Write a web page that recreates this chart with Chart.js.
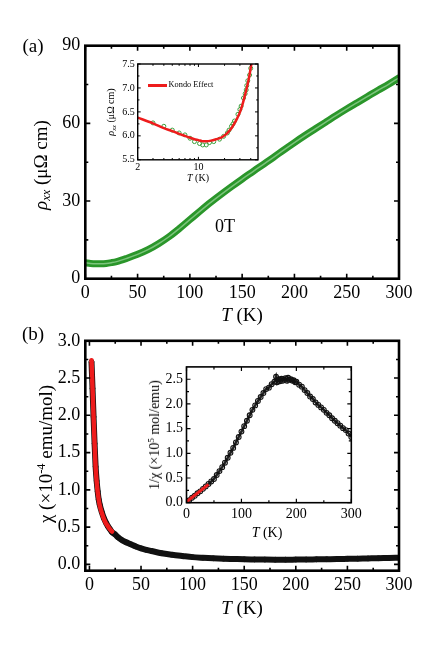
<!DOCTYPE html>
<html>
<head>
<meta charset="utf-8">
<title>Resistivity and susceptibility</title>
<script src="https://cdn.jsdelivr.net/npm/chart.js@4.4.1/dist/chart.umd.min.js"></script>
<style>
  body { margin: 0; background: #fff; }
  #fig { position: relative; width: 436px; height: 649px; overflow: hidden; font-family: "Liberation Serif", "Times New Roman", serif; color: #000; }
  #fig canvas { position: absolute; }
  .t { position: absolute; white-space: nowrap; line-height: 1; transform: translate(-50%, -50%); }
  .v { transform: translate(-50%, -50%) rotate(-90deg); }
  .t sub { font-size: 0.65em; vertical-align: -0.3em; line-height: 0; }
  .t sup { font-size: 0.65em; vertical-align: 0.55em; line-height: 0; }
  .key { position: absolute; left: 148px; top: 83.5px; width: 19px; height: 3px; background: #ee1c1c; }
</style>
</head>
<body>
<div id="fig">
  <canvas id="chartA" width="436" height="325" style="left:0;top:0"></canvas>
  <canvas id="chartB" width="436" height="324" style="left:0;top:325px"></canvas>
  <canvas id="insetA" width="170" height="135" style="left:100px;top:55px"></canvas>
  <canvas id="insetB" width="220" height="170" style="left:145px;top:355px"></canvas>

  <div class="t" style="left:33px;top:45px;font-size:19px">(a)</div>
  <div class="t v" style="left:40px;top:165px;font-size:19px"><i>ρ</i><sub><i>xx</i></sub> (μΩ cm)</div>
  <div class="t" style="left:242px;top:314px;font-size:19px"><i>T</i> (K)</div>
  <div class="t" style="left:225px;top:226px;font-size:18px">0T</div>

  <div class="t v" style="left:111px;top:112px;font-size:10px"><i>ρ</i><sub><i>xx</i></sub> (μΩ cm)</div>
  <div class="t" style="left:198px;top:177.5px;font-size:10px"><i>T</i> (K)</div>
  <div class="key"></div>
  <div class="t" style="left:191px;top:85px;font-size:8.3px">Kondo Effect</div>

  <div class="t" style="left:33px;top:333px;font-size:19px">(b)</div>
  <div class="t v" style="left:45px;top:454px;font-size:19px">χ (×10<sup>-4</sup> emu/mol)</div>
  <div class="t" style="left:242px;top:607px;font-size:19px"><i>T</i> (K)</div>

  <div class="t v" style="left:155px;top:435px;font-size:14px">1/χ (×10<sup>5</sup> mol/emu)</div>
  <div class="t" style="left:267px;top:533px;font-size:14px"><i>T</i> (K)</div>
</div>

<script>
// (a) rho_xx at 0 T, K vs uOhm cm
var rhoT = [0, 5, 10, 15, 20, 25, 30, 40, 50, 60, 70, 80, 90, 100, 110, 120, 130, 140, 150, 160,
            170, 180, 190, 200, 210, 220, 230, 240, 250, 260, 270, 280, 290, 300];
var rhoVals = [6.2, 5.9, 5.8, 5.8, 5.9, 6.2, 6.6, 7.9, 9.4, 11.2, 13.5, 16.2, 19.4, 22.8, 26.2, 29.5, 32.6, 35.6, 38.5, 41.3,
               44.1, 46.9, 49.8, 52.6, 55.3, 57.9, 60.5, 63.1, 65.6, 68.0, 70.4, 72.8, 75.1, 77.6];

// (a) inset: low-T upturn, log T axis
var kondoT = [2, 3, 4, 5, 6, 7, 8, 9, 10, 11, 12, 13, 14, 16, 18, 20, 22, 24, 26, 28, 30, 32, 34, 36, 38, 40, 42];
var kondoFit = [6.38, 6.26, 6.16, 6.10, 6.04, 6.00, 5.96, 5.93, 5.91, 5.89, 5.885, 5.89, 5.90, 5.93, 5.96, 6.01,
                6.08, 6.16, 6.26, 6.37, 6.49, 6.64, 6.82, 7.00, 7.19, 7.42, 7.65];
var lowT = [3, 4, 5, 6, 7, 8, 9, 10.3, 11.2, 12.3, 13.4, 15, 17.5, 19.5, 21.5, 22.5, 24, 25, 26, 28.5,
            30, 31, 33, 34.5, 35.5, 36, 37, 38.8, 40];
var lowRho = [6.27, 6.20, 6.12, 6.06, 6.02, 5.95, 5.88, 5.84, 5.81, 5.81, 5.86, 5.88, 5.93, 5.99, 6.06, 6.12, 6.20, 6.25, 6.31, 6.45,
              6.55, 6.62, 6.79, 6.88, 6.96, 7.05, 7.15, 7.27, 7.41];

// (b) chi, 1e-4 emu/mol
var chiT = [2, 3, 4, 5, 6, 7, 8, 9, 10, 12, 14, 16, 18, 20, 22, 25, 28, 31, 35, 40, 45, 50, 55, 60,
            70, 80, 90, 100, 110, 120, 130, 140, 150, 160, 170, 180, 190, 200, 210, 220, 230, 240, 250, 260, 270, 280, 290, 300];
var chiVals = [2.72, 2.36, 1.98, 1.62, 1.31, 1.12, 0.98, 0.87, 0.80, 0.70, 0.62, 0.56, 0.51, 0.47, 0.43, 0.40, 0.36, 0.33, 0.30, 0.27, 0.24, 0.215, 0.195, 0.18,
               0.15, 0.13, 0.113, 0.097, 0.088, 0.081, 0.076, 0.072, 0.068, 0.066, 0.064, 0.063, 0.063, 0.064, 0.065, 0.067, 0.069, 0.071, 0.074, 0.077, 0.080, 0.083, 0.087, 0.09];
var chiFitT = [2, 3, 4, 5, 6, 7, 8, 9, 10, 12, 14, 16, 18, 20, 22];
var chiFitVals = [2.74, 2.36, 1.98, 1.62, 1.30, 1.11, 0.97, 0.87, 0.79, 0.69, 0.61, 0.55, 0.51, 0.47, 0.44];

// (b) inset: 1/chi, 1e5 mol/emu
var invT = [2, 5, 10, 15, 20, 25, 30, 35, 40, 45,
            50, 55, 60, 65, 70, 75, 80, 85, 90, 95,
            100, 105, 110, 115, 120, 125, 130, 135, 140, 145,
            150, 155, 160, 163, 165, 168, 170, 173, 175, 178,
            180, 183, 185, 188, 190, 193, 195, 198, 200, 205,
            210, 215, 220, 225, 230, 235, 240, 245, 250, 255,
            260, 265, 270, 275, 280, 285, 290, 295, 300];
var invVals = [0.03, 0.05, 0.10, 0.14, 0.19, 0.23, 0.28, 0.33, 0.38, 0.43,
               0.48, 0.56, 0.64, 0.72, 0.81, 0.91, 1.01, 1.11, 1.22, 1.33,
               1.44, 1.55, 1.66, 1.77, 1.88, 1.97, 2.06, 2.14, 2.22, 2.30,
               2.33, 2.40, 2.45, 2.55, 2.44, 2.50, 2.46, 2.51, 2.47, 2.49,
               2.52, 2.47, 2.53, 2.49, 2.50, 2.47, 2.48, 2.44, 2.45, 2.39,
               2.35, 2.28, 2.22, 2.15, 2.10, 2.03, 1.98, 1.93, 1.88, 1.82,
               1.77, 1.71, 1.66, 1.61, 1.56, 1.51, 1.47, 1.40, 1.33];
var invFitT = [0, 40];
var invFitVals = [0.02, 0.37];

// ticks: all marks, then the labelled ones
var tempTicks = [0, 25, 50, 75, 100, 125, 150, 175, 200, 225, 250, 275, 300];
var tempLabels = [0, 50, 100, 150, 200, 250, 300];
var rhoTicks = [0, 15, 30, 45, 60, 75, 90];
var rhoLabels = [0, 30, 60, 90];
var logTicks = [2, 3, 4, 5, 6, 7, 8, 9, 10, 20, 30, 40];
var logLabels = [2, 10];
var lowRhoTicks = [5.5, 5.75, 6.0, 6.25, 6.5, 6.75, 7.0, 7.25, 7.5];
var lowRhoLabels = [5.5, 6.0, 6.5, 7.0, 7.5];
var chiTicks = [0, 0.25, 0.5, 0.75, 1.0, 1.25, 1.5, 1.75, 2.0, 2.25, 2.5, 2.75, 3.0];
var chiLabels = [0, 0.5, 1.0, 1.5, 2.0, 2.5, 3.0];
var invTempTicks = [0, 50, 100, 150, 200, 250, 300];
var invTempLabels = [0, 100, 200, 300];
var invTicks = [0, 0.25, 0.5, 0.75, 1.0, 1.25, 1.5, 1.75, 2.0, 2.25, 2.5];
var invLabels = [0, 0.5, 1.0, 1.5, 2.0, 2.5];

(function () {
  'use strict';

  var FONT = '"Liberation Serif", "Times New Roman", serif';
  var RED = '#ee1c1c';

  function pts(xs, ys) {
    return xs.map(function (x, i) { return { x: x, y: ys[i] }; });
  }

  function isLabelled(list, v) {
    for (var i = 0; i < list.length; i++) if (Math.abs(list[i] - v) < 1e-9) return true;
    return false;
  }

  function int(v) { return String(v); }
  function oneDec(v) { return v.toFixed(1); }

  // inward ticks on all four sides plus the closed frame
  var frameTicks = {
    id: 'frameTicks',
    afterDraw: function (chart, args, o) {
      var ctx = chart.ctx;
      var a = chart.chartArea;
      ctx.save();
      ctx.strokeStyle = '#000';
      ctx.lineWidth = o.tickWidth;
      ['x', 'y'].forEach(function (id) {
        var s = chart.scales[id];
        s.ticks.forEach(function (t) {
          var p = s.getPixelForValue(t.value);
          var len = t.label ? o.major : o.minor;
          ctx.beginPath();
          if (id === 'x') {
            ctx.moveTo(p, a.bottom); ctx.lineTo(p, a.bottom - len);
            ctx.moveTo(p, a.top); ctx.lineTo(p, a.top + len);
          } else {
            ctx.moveTo(a.left, p); ctx.lineTo(a.left + len, p);
            ctx.moveTo(a.right, p); ctx.lineTo(a.right - len, p);
          }
          ctx.stroke();
        });
      });
      ctx.lineWidth = o.frame;
      ctx.strokeRect(a.left, a.top, a.right - a.left, a.bottom - a.top);
      ctx.restore();
    }
  };

  function axis(cfg, which, size) {
    return {
      type: cfg.type || 'linear',
      min: cfg.min,
      max: cfg.max,
      grid: { display: false, drawTicks: false },
      border: { display: false },
      afterBuildTicks: function (s) {
        s.ticks = cfg.ticks.map(function (v) { return { value: v }; });
      },
      afterFit: function (s) {
        if (which === 'x') s.height = size; else s.width = size;
      },
      ticks: {
        autoSkip: false,
        maxRotation: 0,
        minRotation: 0,
        padding: cfg.pad,
        color: '#000',
        font: { family: FONT, size: cfg.font },
        callback: function (v) { return isLabelled(cfg.labels, v) ? cfg.fmt(v) : ''; }
      }
    };
  }

  function buildChart(canvasId, box, xCfg, yCfg, datasets, tickStyle) {
    return new Chart(document.getElementById(canvasId), {
      type: 'scatter',
      data: { datasets: datasets },
      options: {
        responsive: false,
        animation: false,
        devicePixelRatio: 1,
        events: [],
        layout: { padding: { left: 0, top: box.top, right: box.right, bottom: 0 } },
        plugins: { legend: { display: false }, tooltip: { enabled: false }, frameTicks: tickStyle },
        scales: { x: axis(xCfg, 'x', box.xh), y: axis(yCfg, 'y', box.yw) }
      },
      plugins: [frameTicks]
    });
  }

  var mainTicks = { major: 5, minor: 3, tickWidth: 1.6, frame: 2.6 };

  // (a) main
  buildChart('chartA', { top: 45.7, right: 37, xh: 46.3, yw: 85.3 },
    { min: 0, max: 300, ticks: tempTicks, labels: tempLabels, fmt: int, font: 18, pad: 3.5 },
    { min: 0, max: 90, ticks: rhoTicks, labels: rhoLabels, fmt: int, font: 18, pad: 5 },
    [
      { data: pts(rhoT, rhoVals), showLine: true, borderColor: '#7cc47c', borderWidth: 1.5, pointRadius: 0,
        cubicInterpolationMode: 'monotone', order: 0 },
      { data: pts(rhoT, rhoVals), showLine: true, borderColor: '#2a962a', borderWidth: 7, borderCapStyle: 'round',
        pointRadius: 0, cubicInterpolationMode: 'monotone', order: 1 }
    ], mainTicks);

  // (a) inset
  buildChart('insetA', { top: 7.3, right: 12, xh: 30.2, yw: 37.7 },
    { type: 'logarithmic', min: 2, max: 48.5, ticks: logTicks, labels: logLabels, fmt: int, font: 10, pad: 1.2 },
    { min: 5.5, max: 7.5, ticks: lowRhoTicks, labels: lowRhoLabels, fmt: oneDec, font: 10, pad: 3 },
    [
      { data: pts(kondoT, kondoFit), showLine: true, borderColor: RED, borderWidth: 2.5, pointRadius: 0,
        cubicInterpolationMode: 'monotone', order: 0 },
      { data: pts(lowT, lowRho), pointRadius: 2, pointBorderWidth: 1, pointBorderColor: '#3a9e3a',
        pointBackgroundColor: 'rgba(255,255,255,0)', order: 1 }
    ], { major: 3, minor: 1.8, tickWidth: 1, frame: 1.4 });

  // (b) main
  buildChart('chartB', { top: 14, right: 37, xh: 78.3, yw: 85.3 },
    { min: -4, max: 300, ticks: tempTicks, labels: tempLabels, fmt: int, font: 18, pad: 3.5 },
    { min: -0.085, max: 3.0, ticks: chiTicks, labels: chiLabels, fmt: oneDec, font: 18, pad: 5 },
    [
      { data: pts(chiFitT, chiFitVals), showLine: true, borderColor: RED, borderWidth: 4.5, pointRadius: 0,
        borderCapStyle: 'round', cubicInterpolationMode: 'monotone', order: 0 },
      { data: pts(chiT, chiVals), showLine: true, borderColor: '#111', borderWidth: 6, pointRadius: 2.4,
        pointBorderWidth: 1, pointBorderColor: '#111', pointBackgroundColor: 'rgba(255,255,255,0)',
        cubicInterpolationMode: 'monotone', order: 1 }
    ], mainTicks);

  // (b) inset
  buildChart('insetB', { top: 10, right: 10.7, xh: 22.3, yw: 41.5 },
    { min: 0, max: 300, ticks: invTempTicks, labels: invTempLabels, fmt: int, font: 14, pad: 3.2 },
    { min: 0, max: 2.75, ticks: invTicks, labels: invLabels, fmt: oneDec, font: 14, pad: 3.5 },
    [
      { data: pts(invFitT, invFitVals), showLine: true, borderColor: RED, borderWidth: 3, pointRadius: 0, order: 0 },
      { data: pts(invT, invVals), showLine: true, borderColor: '#222', borderWidth: 2.6, pointRadius: 2.4,
        pointBorderWidth: 1.1, pointBorderColor: '#111', pointBackgroundColor: 'rgba(255,255,255,0)', order: 1 }
    ], { major: 4, minor: 2.5, tickWidth: 1.2, frame: 1.6 });
})();
</script>
</body>
</html>
